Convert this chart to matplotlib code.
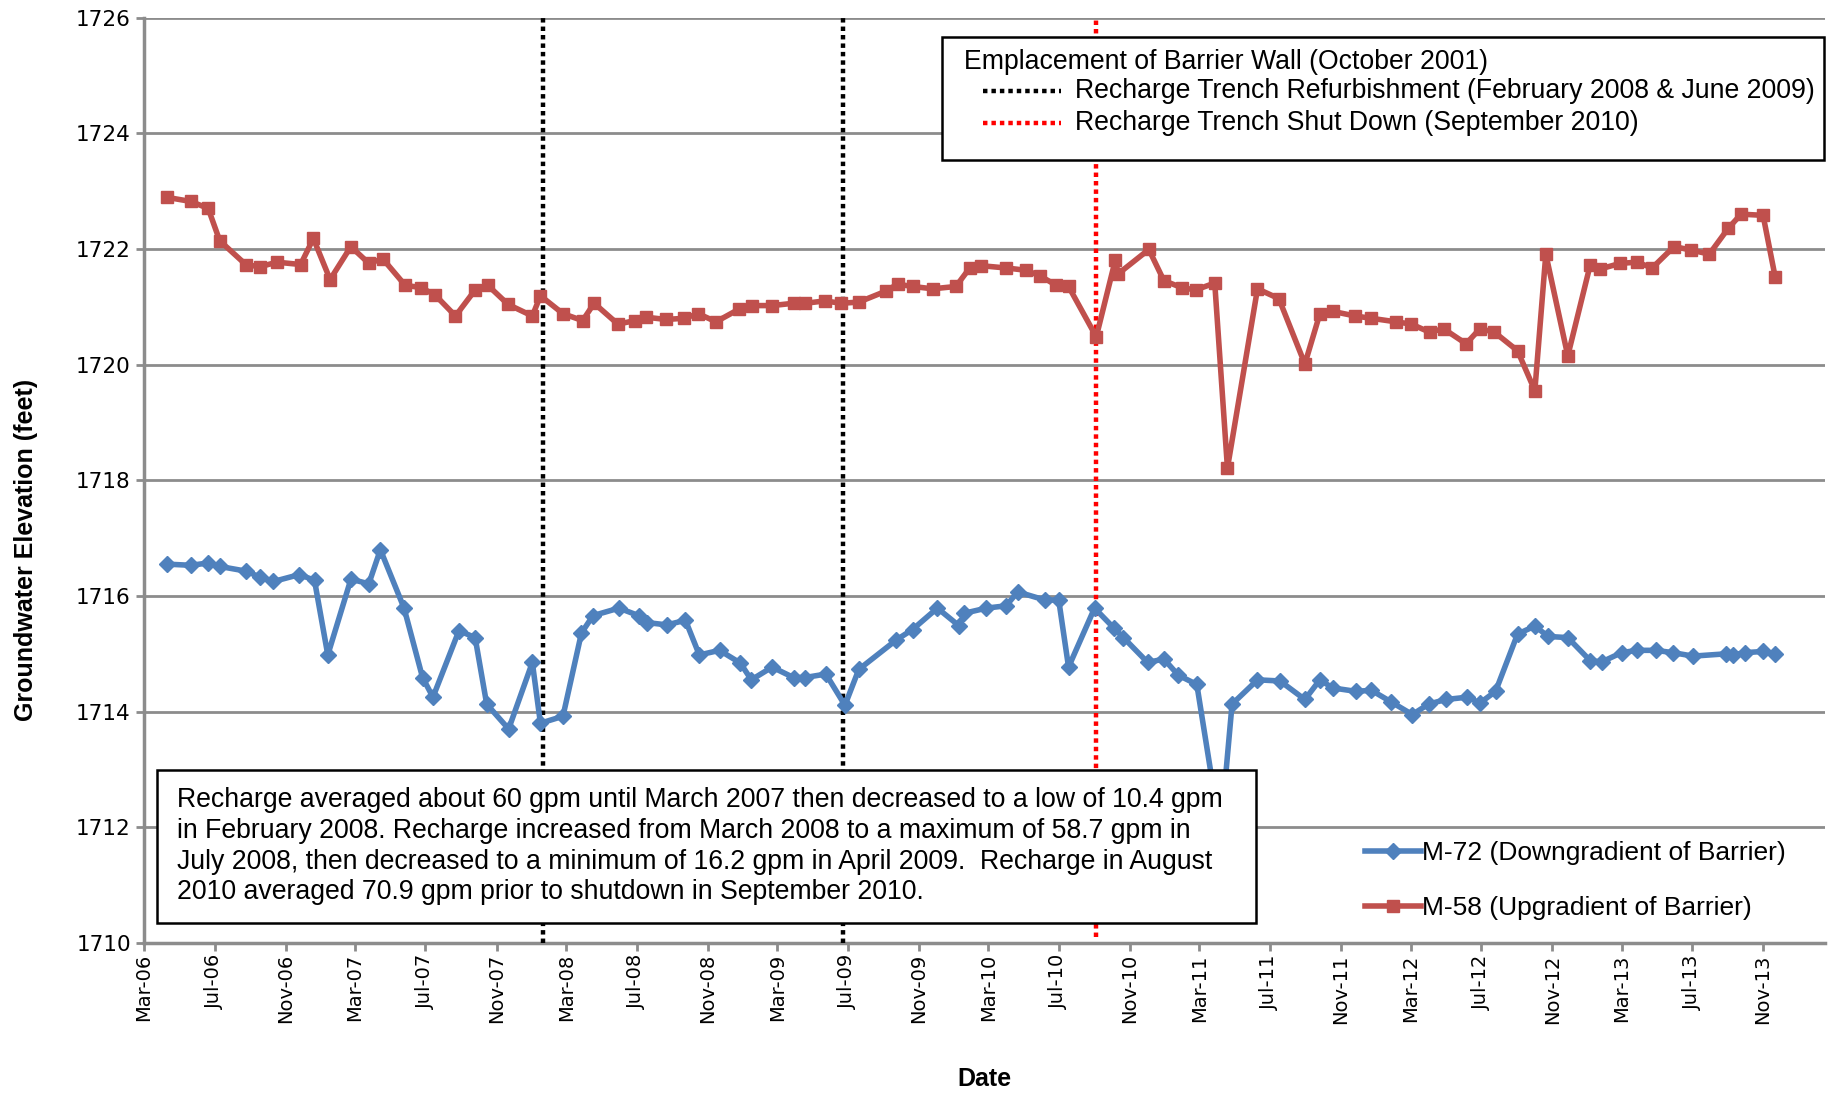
import numpy as np
import pandas as pd
import matplotlib
matplotlib.use('Agg')
import matplotlib.pyplot as plt
import matplotlib.dates as mdates
from matplotlib.lines import Line2D
from matplotlib.patches import Rectangle

# M-58 (upgradient) readings
m58_dates = ['2006-04-10', '2006-05-21', '2006-06-20', '2006-07-10', '2006-08-24', '2006-09-17',
             '2006-10-17', '2006-11-27', '2006-12-19', '2007-01-17', '2007-02-22', '2007-03-25',
             '2007-04-18', '2007-05-27', '2007-06-24', '2007-07-18', '2007-08-22', '2007-09-25',
             '2007-10-17', '2007-11-21', '2008-01-02', '2008-01-16', '2008-02-24', '2008-03-29',
             '2008-04-18', '2008-05-29', '2008-06-28', '2008-07-16', '2008-08-20', '2008-09-21',
             '2008-10-15', '2008-11-15', '2008-12-25', '2009-01-17', '2009-02-20', '2009-03-29',
             '2009-04-18', '2009-05-22', '2009-06-20', '2009-07-20', '2009-09-05', '2009-09-25',
             '2009-10-21', '2009-11-25', '2010-01-04', '2010-01-28', '2010-02-16', '2010-04-01',
             '2010-05-06', '2010-05-30', '2010-06-27', '2010-07-18', '2010-09-04', '2010-10-07',
             '2010-10-12', '2010-12-04', '2010-12-30', '2011-01-30', '2011-02-23', '2011-03-28',
             '2011-04-19', '2011-06-10', '2011-07-17', '2011-08-31', '2011-09-26', '2011-10-18',
             '2011-11-26', '2011-12-24', '2012-02-04', '2012-03-02', '2012-04-03', '2012-04-27',
             '2012-06-05', '2012-06-29', '2012-07-24', '2012-09-02', '2012-10-02', '2012-10-21',
             '2012-11-28', '2013-01-06', '2013-01-22', '2013-02-27', '2013-03-28', '2013-04-23',
             '2013-05-31', '2013-06-29', '2013-07-31', '2013-09-02', '2013-09-24', '2013-11-01',
             '2013-11-22']
m58_elev = [1722.89, 1722.82, 1722.70, 1722.14, 1721.73, 1721.69, 1721.77, 1721.73, 1722.18, 1721.47,
            1722.04, 1721.75, 1721.83, 1721.37, 1721.33, 1721.20, 1720.84, 1721.29, 1721.37, 1721.04,
            1720.84, 1721.19, 1720.88, 1720.76, 1721.06, 1720.70, 1720.76, 1720.82, 1720.78, 1720.80,
            1720.88, 1720.74, 1720.96, 1721.02, 1721.02, 1721.06, 1721.06, 1721.10, 1721.06, 1721.08,
            1721.27, 1721.39, 1721.35, 1721.31, 1721.35, 1721.67, 1721.71, 1721.67, 1721.63, 1721.53,
            1721.37, 1721.35, 1720.48, 1721.81, 1721.57, 1721.99, 1721.45, 1721.33, 1721.29, 1721.41,
            1718.21, 1721.31, 1721.14, 1720.01, 1720.88, 1720.92, 1720.84, 1720.80, 1720.74, 1720.70,
            1720.56, 1720.62, 1720.36, 1720.62, 1720.56, 1720.24, 1719.55, 1721.91, 1720.15, 1721.73,
            1721.65, 1721.75, 1721.77, 1721.67, 1722.04, 1721.98, 1721.91, 1722.36, 1722.60, 1722.58,
            1721.51]

# M-72 (downgradient) readings
m72_dates = ['2006-04-10', '2006-05-21', '2006-06-20', '2006-07-10', '2006-08-24', '2006-09-17',
             '2006-10-11', '2006-11-25', '2006-12-21', '2007-01-13', '2007-02-22', '2007-03-25',
             '2007-04-14', '2007-05-25', '2007-06-26', '2007-07-14', '2007-08-28', '2007-09-25',
             '2007-10-15', '2007-11-22', '2008-01-02', '2008-01-16', '2008-02-24', '2008-03-27',
             '2008-04-16', '2008-05-31', '2008-07-04', '2008-07-18', '2008-08-22', '2008-09-23',
             '2008-10-17', '2008-11-21', '2008-12-27', '2009-01-15', '2009-02-20', '2009-03-29',
             '2009-04-18', '2009-05-24', '2009-06-26', '2009-07-20', '2009-09-23', '2009-10-21',
             '2009-12-03', '2010-01-10', '2010-01-18', '2010-02-26', '2010-04-01', '2010-04-21',
             '2010-06-07', '2010-07-01', '2010-07-18', '2010-09-01', '2010-10-05', '2010-10-21',
             '2010-12-02', '2010-12-30', '2011-01-24', '2011-02-25', '2011-04-07', '2011-04-27',
             '2011-06-10', '2011-07-19', '2011-08-31', '2011-09-26', '2011-10-18', '2011-11-28',
             '2011-12-24', '2012-01-27', '2012-03-04', '2012-04-01', '2012-05-01', '2012-06-07',
             '2012-06-29', '2012-07-26', '2012-09-02', '2012-10-02', '2012-10-25', '2012-11-28',
             '2013-01-06', '2013-01-26', '2013-03-01', '2013-03-28', '2013-04-29', '2013-05-29',
             '2013-07-03', '2013-08-29', '2013-09-10', '2013-09-30', '2013-11-01', '2013-11-22']
m72_elev = [1716.55, 1716.53, 1716.57, 1716.51, 1716.43, 1716.33, 1716.25, 1716.37, 1716.27, 1714.98,
            1716.29, 1716.21, 1716.80, 1715.79, 1714.59, 1714.25, 1715.40, 1715.28, 1714.13, 1713.70,
            1714.85, 1713.80, 1713.92, 1715.36, 1715.66, 1715.79, 1715.66, 1715.54, 1715.50, 1715.58,
            1714.98, 1715.06, 1714.84, 1714.55, 1714.77, 1714.59, 1714.59, 1714.65, 1714.11, 1714.73,
            1715.24, 1715.42, 1715.79, 1715.48, 1715.70, 1715.79, 1715.83, 1716.07, 1715.93, 1715.93,
            1714.77, 1715.79, 1715.44, 1715.28, 1714.85, 1714.91, 1714.63, 1714.47, 1711.90, 1714.13,
            1714.55, 1714.53, 1714.21, 1714.55, 1714.41, 1714.35, 1714.37, 1714.17, 1713.95, 1714.13,
            1714.21, 1714.25, 1714.15, 1714.35, 1715.34, 1715.48, 1715.30, 1715.28, 1714.88, 1714.86,
            1715.02, 1715.06, 1715.06, 1715.02, 1714.96, 1715.00, 1714.98, 1715.02, 1715.04, 1715.00]

# event markers
refurb_dates = ['2008-01-21', '2009-06-23']
shutdown_date = '2010-09-04'

note_text = ('Recharge averaged about 60 gpm until March 2007 then decreased to a low of 10.4 gpm\n'
             'in February 2008. Recharge increased from March 2008 to a maximum of 58.7 gpm in\n'
             'July 2008, then decreased to a minimum of 16.2 gpm in April 2009.  Recharge in August\n'
             '2010 averaged 70.9 gpm prior to shutdown in September 2010.')

arial = ['Liberation Sans', 'DejaVu Sans']

blue = '#4F81BD'
red = '#C0504D'
grey = '#8C8C8C'
dots = (0, (1, 0.9))

fig = plt.figure(figsize=(18.35, 10.94), dpi=100)
ax = fig.add_axes([0.0785, 0.138, 0.916, 0.846])

ax.plot(pd.to_datetime(m72_dates), m72_elev, color=blue, lw=4, marker='D', markersize=8.5,
        label='M-72 (Downgradient of Barrier)', zorder=4)
ax.plot(pd.to_datetime(m58_dates), m58_elev, color=red, lw=4, marker='s', markersize=8.5,
        label='M-58 (Upgradient of Barrier)', zorder=4)

for d in refurb_dates:
    ax.axvline(pd.Timestamp(d), color='black', lw=3.2, linestyle=dots, zorder=3)
ax.axvline(pd.Timestamp(shutdown_date), ymax=1.0, ymin=0.007, color='red', lw=3.2,
           linestyle=dots, zorder=3, clip_on=False)

ax.set_ylim(1710, 1726)
ax.set_yticks(np.arange(1710, 1727, 2))
ax.set_xlim(pd.Timestamp('2006-03-01'), pd.Timestamp('2014-02-16'))
ax.xaxis.set_major_locator(mdates.MonthLocator(bymonth=[3, 7, 11]))
ax.xaxis.set_major_formatter(mdates.DateFormatter('%b-%y'))
plt.setp(ax.get_xticklabels(), rotation=90, fontsize=14, family='DejaVu Sans')
plt.setp(ax.get_yticklabels(), fontsize=15.5, family='DejaVu Sans')

ax.yaxis.grid(True, color=grey, lw=2)
ax.set_axisbelow(True)
for s in ['top', 'right']:
    ax.spines[s].set_visible(False)
for s in ['left', 'bottom']:
    ax.spines[s].set_color(grey)
    ax.spines[s].set_linewidth(2.5)
ax.tick_params(axis='both', colors=grey, width=2, length=6, direction='out', labelcolor='black')
ax.tick_params(axis='x', pad=2)

ax.set_xlabel('Date', fontsize=18, fontweight='bold', family=arial, va='center')
ax.xaxis.set_label_coords(0.5, -0.147)
ax.set_ylabel('Groundwater Elevation (feet)', fontsize=18, fontweight='bold', family=arial, va='center')
ax.yaxis.set_label_coords(-0.07, 0.425)

# series legend (bottom right)
leg = ax.legend(loc='upper left', bbox_to_anchor=(0.7265, 0.11), frameon=False,
                prop={'family': arial, 'size': 19}, handlelength=2.1, handletextpad=0.05,
                labelspacing=1.17, borderpad=0, borderaxespad=0)

# recharge note box
ax.add_patch(Rectangle((0.0077, 0.0216), 0.654, 0.1654, transform=ax.transAxes,
                       facecolor='white', edgecolor='black', lw=1.8, zorder=6))
ax.text(0.0195, 0.1045, note_text, transform=ax.transAxes, ha='left', va='center',
        fontsize=19.2, family=arial, linespacing=1.23, zorder=7)

# event legend box (top right)
ax.add_patch(Rectangle((0.4747, 0.846), 0.5248, 0.133, transform=ax.transAxes,
                       facecolor='white', edgecolor='black', lw=1.8, zorder=6, clip_on=False))
ax.text(0.488, 0.952, 'Emplacement of Barrier Wall (October 2001)', transform=ax.transAxes,
        ha='left', va='center', fontsize=19.2, family=arial, zorder=7)
ax.add_line(Line2D([0.499, 0.5455], [0.9206, 0.9206], transform=ax.transAxes, color='black',
                   lw=3.2, linestyle=dots, zorder=7))
ax.text(0.554, 0.9206, 'Recharge Trench Refurbishment (February 2008 & June 2009)',
        transform=ax.transAxes, ha='left', va='center', fontsize=19.2, family=arial, zorder=7)
ax.add_line(Line2D([0.499, 0.5455], [0.886, 0.886], transform=ax.transAxes, color='red',
                   lw=3.2, linestyle=dots, zorder=7))
ax.text(0.554, 0.886, 'Recharge Trench Shut Down (September 2010)',
        transform=ax.transAxes, ha='left', va='center', fontsize=19.2, family=arial, zorder=7)

plt.savefig('out.png', dpi=100)
